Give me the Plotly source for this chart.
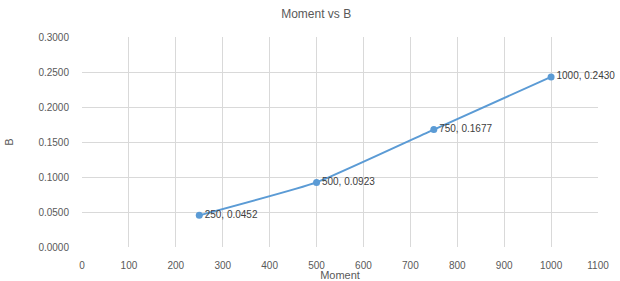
import plotly.graph_objects as go

moment = [250, 500, 750, 1000]
b_values = [0.0452, 0.0923, 0.1677, 0.2430]
labels = [f"{m}, {v:.4f}" for m, v in zip(moment, b_values)]
title_text = "Moment vs B"
x_title = "Moment"
y_title = "B"

fig = go.Figure()
fig.add_trace(go.Scatter(
    x=moment, y=b_values, mode="lines+markers+text",
    text=labels, textposition="middle right",
    textfont=dict(size=10, color="#404040"),
    line=dict(color="#5B9BD5", width=2, shape="spline", smoothing=0.4),
    marker=dict(color="#5B9BD5", size=7),
    cliponaxis=False, showlegend=False, hoverinfo="skip",
))

fig.update_layout(
    width=620, height=281,
    margin=dict(l=82, r=22, t=37, b=34),
    paper_bgcolor="white", plot_bgcolor="white",
    font=dict(family="Liberation Sans", size=10, color="#595959"),
    title=dict(text=title_text, x=0.51, xanchor="center", y=0.95, yanchor="middle",
               font=dict(size=12, color="#595959")),
)
fig.update_xaxes(
    range=[0, 1100], dtick=100, tick0=0, automargin=False,
    showgrid=True, gridcolor="#D9D9D9", gridwidth=1,
    zeroline=False, showline=False, ticks="", ticklabelstandoff=11,
    title=dict(text=x_title, standoff=2, font=dict(size=11, color="#595959")),
)
fig.update_yaxes(
    range=[0, 0.3], dtick=0.05, tick0=0, tickformat=".4f", automargin=False,
    showgrid=True, gridcolor="#D9D9D9", gridwidth=1,
    zeroline=False, showline=False, ticks="", ticklabelstandoff=12,
    title=dict(text=y_title, standoff=22, font=dict(size=11, color="#595959")),
)

fig.write_html(
    "out.html",
    config={"displayModeBar": False},
    post_script="document.body.style.margin='0';document.body.style.overflow='hidden';",
)
